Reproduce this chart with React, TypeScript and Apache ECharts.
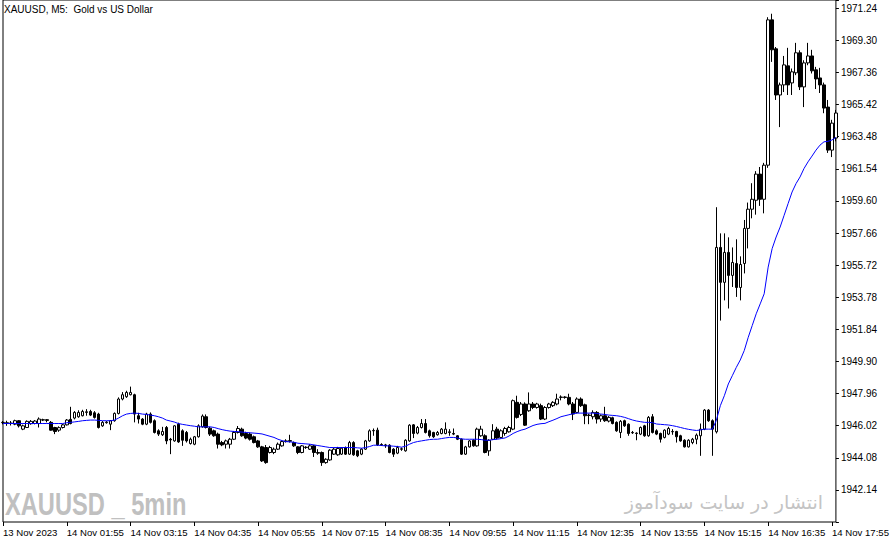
import React, { useEffect, useRef } from 'react';
import * as echarts from 'echarts';

const TITLE = 'XAUUSD, M5:  Gold vs US Dollar';
const WATERMARK_EN = 'XAUUSD _ 5min';
const WATERMARK_FA = 'انتشار در سایت سودآموز';

const TICK_LABELS = [
  '13 Nov 2023', '14 Nov 01:55', '14 Nov 03:15', '14 Nov 04:35', '14 Nov 05:55',
  '14 Nov 07:15', '14 Nov 08:35', '14 Nov 09:55', '14 Nov 11:15', '14 Nov 12:35',
  '14 Nov 13:55', '14 Nov 15:15', '14 Nov 16:35', '14 Nov 17:55',
];

const PRICE_MIN = 1940.2;
const PRICE_MAX = 1971.74;
const PRICE_STEP = 1.94;

// [open, high, low, close]
const OHLC: [number, number, number, number][] = [
  [1946.20, 1946.30, 1946.10, 1946.22], [1946.16, 1946.32, 1946.01, 1946.20], [1946.18, 1946.30, 1946.03, 1946.15], [1946.11, 1946.38, 1946.05, 1946.32], [1946.32, 1946.36, 1945.91, 1946.01],
  [1945.81, 1946.08, 1945.75, 1946.01], [1945.91, 1946.34, 1945.88, 1946.28], [1946.14, 1946.36, 1946.08, 1946.28], [1946.15, 1946.36, 1946.10, 1946.30], [1946.15, 1946.52, 1945.91, 1946.42],
  [1946.36, 1946.44, 1946.30, 1946.38], [1946.38, 1946.42, 1946.22, 1946.34], [1946.22, 1946.30, 1945.72, 1945.75], [1945.91, 1945.95, 1945.51, 1945.67], [1945.75, 1945.98, 1945.65, 1945.90],
  [1945.91, 1946.12, 1945.85, 1946.07], [1946.07, 1946.42, 1946.03, 1946.36], [1946.40, 1947.16, 1946.10, 1946.15], [1946.48, 1946.90, 1946.40, 1946.82], [1946.56, 1946.95, 1946.50, 1946.82],
  [1946.62, 1946.98, 1946.58, 1946.88], [1946.82, 1947.02, 1946.62, 1946.86], [1946.88, 1946.98, 1946.60, 1946.66], [1946.80, 1946.90, 1946.45, 1946.52], [1946.72, 1946.80, 1945.85, 1945.91],
  [1946.01, 1946.30, 1945.95, 1946.22], [1946.20, 1946.30, 1946.14, 1946.24], [1946.11, 1946.36, 1945.75, 1946.32], [1946.32, 1946.82, 1946.26, 1946.76], [1946.76, 1947.73, 1946.70, 1947.63],
  [1947.63, 1948.05, 1947.55, 1947.89], [1947.77, 1948.13, 1947.70, 1948.03], [1947.89, 1948.38, 1947.85, 1948.03], [1947.89, 1947.95, 1946.22, 1946.72], [1946.62, 1946.80, 1946.15, 1946.42],
  [1946.42, 1946.48, 1946.05, 1946.11], [1946.11, 1946.80, 1946.05, 1946.72], [1946.72, 1946.82, 1946.15, 1946.22], [1946.32, 1946.40, 1945.55, 1945.61], [1945.71, 1945.80, 1945.40, 1945.51],
  [1945.47, 1945.95, 1945.40, 1945.67], [1945.91, 1946.00, 1944.90, 1945.10], [1945.20, 1945.28, 1944.30, 1945.16], [1945.10, 1946.05, 1945.05, 1946.01], [1946.11, 1946.20, 1944.98, 1945.04],
  [1945.71, 1945.80, 1944.80, 1945.14], [1945.61, 1945.70, 1945.00, 1945.10], [1944.94, 1945.30, 1944.88, 1945.20], [1944.90, 1945.40, 1944.84, 1945.35], [1945.35, 1946.10, 1945.30, 1946.01],
  [1945.95, 1946.70, 1945.90, 1946.60], [1946.56, 1946.70, 1945.85, 1945.91], [1945.87, 1945.95, 1945.40, 1945.51], [1945.71, 1945.78, 1945.35, 1945.41], [1945.51, 1945.60, 1944.64, 1944.90],
  [1945.00, 1945.10, 1944.78, 1944.86], [1944.90, 1945.18, 1944.64, 1945.10], [1944.90, 1945.28, 1944.64, 1945.20], [1945.20, 1945.70, 1945.15, 1945.61], [1945.61, 1946.00, 1945.55, 1945.85],
  [1945.81, 1945.90, 1945.35, 1945.41], [1945.55, 1945.65, 1945.20, 1945.27], [1945.51, 1945.60, 1945.12, 1945.20], [1945.35, 1945.42, 1944.95, 1945.00], [1945.10, 1945.16, 1944.68, 1944.74],
  [1944.74, 1944.80, 1943.83, 1943.89], [1944.70, 1944.85, 1943.72, 1943.79], [1944.40, 1944.80, 1944.34, 1944.70], [1944.40, 1944.70, 1944.30, 1944.60], [1944.60, 1945.00, 1944.55, 1944.90],
  [1944.80, 1945.12, 1944.75, 1945.06], [1945.06, 1945.20, 1945.00, 1945.10], [1945.08, 1945.47, 1945.00, 1945.12], [1945.00, 1945.06, 1944.74, 1944.80], [1944.74, 1944.78, 1944.30, 1944.40],
  [1944.40, 1944.85, 1944.35, 1944.80], [1944.72, 1944.78, 1944.62, 1944.70], [1944.60, 1944.90, 1944.55, 1944.80], [1944.80, 1944.86, 1944.13, 1944.40], [1944.40, 1944.60, 1944.26, 1944.36],
  [1944.40, 1944.46, 1943.59, 1943.79], [1943.79, 1944.05, 1943.72, 1943.99], [1943.95, 1944.60, 1943.90, 1944.54], [1944.30, 1944.70, 1944.25, 1944.60], [1944.26, 1944.74, 1944.20, 1944.64],
  [1944.30, 1944.72, 1944.25, 1944.66], [1944.70, 1944.76, 1944.25, 1944.30], [1944.30, 1945.10, 1944.25, 1945.00], [1945.00, 1945.08, 1944.20, 1944.26], [1944.50, 1944.56, 1944.12, 1944.20],
  [1944.30, 1944.66, 1944.24, 1944.60], [1944.60, 1945.16, 1944.55, 1945.10], [1945.10, 1945.80, 1945.05, 1945.71], [1945.71, 1945.85, 1945.41, 1945.73], [1945.75, 1945.90, 1944.80, 1944.86],
  [1944.88, 1944.96, 1944.80, 1944.86], [1944.86, 1944.92, 1944.68, 1944.82], [1944.84, 1944.90, 1944.35, 1944.40], [1944.60, 1944.66, 1944.13, 1944.30], [1944.36, 1944.80, 1944.30, 1944.70],
  [1944.62, 1944.70, 1944.50, 1944.60], [1944.50, 1945.20, 1944.45, 1945.14], [1945.10, 1946.11, 1945.05, 1946.05], [1946.07, 1946.12, 1945.27, 1945.55], [1945.57, 1946.00, 1945.50, 1945.91],
  [1945.91, 1946.42, 1945.85, 1946.15], [1946.15, 1946.42, 1945.55, 1945.61], [1945.71, 1945.78, 1945.30, 1945.41], [1945.61, 1945.65, 1945.28, 1945.35], [1945.47, 1945.70, 1945.42, 1945.61],
  [1945.55, 1945.88, 1945.50, 1945.81], [1945.55, 1946.22, 1945.50, 1945.81], [1945.61, 1945.81, 1945.41, 1945.65], [1945.55, 1945.85, 1945.45, 1945.51], [1945.41, 1945.45, 1945.15, 1945.20],
  [1945.20, 1945.25, 1944.25, 1944.30], [1944.30, 1944.80, 1944.25, 1944.74], [1944.74, 1945.15, 1944.70, 1945.10], [1945.14, 1945.20, 1944.75, 1944.80], [1944.80, 1945.90, 1944.75, 1945.81],
  [1945.41, 1946.01, 1945.35, 1945.81], [1945.41, 1945.50, 1944.35, 1944.40], [1944.50, 1945.20, 1944.20, 1945.14], [1945.20, 1946.11, 1945.15, 1945.71], [1945.81, 1945.95, 1945.20, 1945.27],
  [1945.31, 1945.80, 1945.25, 1945.71], [1945.55, 1945.95, 1945.41, 1945.85], [1945.65, 1946.01, 1945.60, 1945.91], [1945.81, 1947.60, 1945.75, 1947.53], [1947.43, 1947.83, 1946.45, 1946.52],
  [1946.70, 1947.45, 1946.60, 1947.33], [1947.33, 1947.43, 1946.00, 1946.05], [1946.92, 1948.03, 1946.86, 1947.33], [1947.33, 1947.45, 1947.02, 1947.12], [1947.12, 1947.40, 1947.05, 1947.33],
  [1947.23, 1947.35, 1946.36, 1946.42], [1946.42, 1947.20, 1946.36, 1947.12], [1947.12, 1947.40, 1947.05, 1947.33], [1947.23, 1947.50, 1947.15, 1947.43], [1947.33, 1947.95, 1947.25, 1947.63],
  [1947.73, 1947.85, 1947.55, 1947.75], [1947.75, 1947.80, 1947.65, 1947.73], [1947.73, 1947.95, 1947.25, 1947.33], [1947.33, 1947.45, 1946.36, 1946.72], [1946.82, 1947.73, 1946.76, 1947.63],
  [1947.63, 1947.73, 1947.15, 1947.23], [1947.28, 1947.35, 1946.11, 1946.62], [1946.66, 1946.75, 1946.11, 1946.64], [1946.56, 1946.95, 1946.40, 1946.82], [1946.82, 1946.90, 1946.15, 1946.42],
  [1946.42, 1946.70, 1946.25, 1946.62], [1946.62, 1947.16, 1946.25, 1946.32], [1946.30, 1946.60, 1946.22, 1946.52], [1946.50, 1946.56, 1946.10, 1946.15], [1946.22, 1946.28, 1945.65, 1945.71],
  [1945.61, 1946.36, 1945.27, 1946.28], [1946.32, 1946.38, 1945.95, 1946.01], [1946.11, 1946.16, 1945.41, 1945.55], [1945.61, 1945.70, 1945.52, 1945.59], [1945.57, 1945.62, 1945.14, 1945.55],
  [1945.51, 1945.97, 1945.45, 1945.91], [1946.01, 1946.07, 1945.35, 1945.41], [1945.41, 1946.60, 1945.35, 1946.52], [1946.56, 1946.72, 1945.55, 1945.61], [1945.71, 1945.80, 1945.45, 1945.51],
  [1945.55, 1945.60, 1945.00, 1945.20], [1945.31, 1945.80, 1945.25, 1945.75], [1945.51, 1945.95, 1945.45, 1945.85], [1945.65, 1945.81, 1945.47, 1945.67], [1945.67, 1945.71, 1945.00, 1945.35],
  [1945.41, 1945.47, 1945.05, 1945.10], [1945.14, 1945.20, 1944.70, 1944.74], [1944.74, 1945.20, 1944.70, 1945.14], [1945.00, 1945.28, 1944.90, 1945.20], [1945.20, 1945.55, 1944.90, 1945.45],
  [1945.41, 1946.15, 1944.20, 1945.81], [1945.81, 1947.02, 1945.75, 1946.96], [1946.96, 1947.02, 1946.25, 1946.32], [1946.32, 1946.40, 1944.20, 1945.81], [1945.65, 1959.22, 1945.55, 1956.79],
  [1956.79, 1957.64, 1952.37, 1954.68], [1954.68, 1957.64, 1953.59, 1956.49], [1956.49, 1957.40, 1953.10, 1955.10], [1955.10, 1956.79, 1954.40, 1955.88], [1955.82, 1957.28, 1953.80, 1954.37],
  [1954.37, 1956.25, 1953.59, 1955.76], [1955.82, 1958.45, 1955.22, 1957.94], [1957.94, 1959.50, 1956.73, 1959.10], [1959.10, 1960.67, 1958.55, 1959.70], [1959.64, 1961.40, 1958.77, 1961.22],
  [1961.22, 1961.65, 1959.30, 1959.70], [1959.70, 1961.90, 1958.85, 1961.76], [1961.76, 1970.70, 1961.60, 1970.54], [1970.54, 1970.91, 1968.00, 1968.73], [1968.79, 1968.90, 1965.70, 1966.00],
  [1966.00, 1966.75, 1964.06, 1966.61], [1966.61, 1968.36, 1966.18, 1967.82], [1967.76, 1968.85, 1966.00, 1966.61], [1966.73, 1967.60, 1966.00, 1967.40], [1967.34, 1969.15, 1967.20, 1968.55],
  [1968.55, 1968.70, 1966.30, 1966.49], [1966.49, 1968.10, 1965.27, 1967.94], [1967.94, 1969.15, 1967.80, 1968.36], [1968.36, 1968.73, 1967.30, 1967.46], [1967.52, 1967.70, 1966.36, 1966.97],
  [1967.03, 1967.64, 1966.12, 1966.61], [1966.61, 1966.75, 1964.90, 1965.21], [1965.27, 1965.70, 1962.50, 1962.67], [1962.67, 1964.50, 1962.25, 1964.30], [1963.40, 1965.10, 1963.20, 1964.91],
];

// moving average (blue line), one value per bar
const MA = [
  1946.15, 1946.15, 1946.15, 1946.15, 1946.15, 1946.15, 1946.15, 1946.15, 1946.15, 1946.15,
  1946.15, 1946.15, 1946.15, 1946.15, 1946.15, 1946.15, 1946.20, 1946.22, 1946.25, 1946.28,
  1946.32, 1946.34, 1946.36, 1946.36, 1946.34, 1946.32, 1946.32, 1946.32, 1946.36, 1946.48,
  1946.62, 1946.72, 1946.76, 1946.78, 1946.76, 1946.72, 1946.70, 1946.66, 1946.62, 1946.56,
  1946.48, 1946.36, 1946.30, 1946.24, 1946.15, 1946.10, 1946.06, 1946.02, 1945.99, 1945.95,
  1945.95, 1945.95, 1945.95, 1945.91, 1945.84, 1945.78, 1945.73, 1945.69, 1945.67, 1945.66,
  1945.63, 1945.61, 1945.59, 1945.57, 1945.55, 1945.52, 1945.45, 1945.38, 1945.31, 1945.20,
  1945.12, 1945.06, 1945.04, 1945.02, 1944.96, 1944.94, 1944.92, 1944.90, 1944.86, 1944.82,
  1944.78, 1944.74, 1944.70, 1944.70, 1944.70, 1944.70, 1944.70, 1944.70, 1944.70, 1944.68,
  1944.66, 1944.70, 1944.76, 1944.84, 1944.84, 1944.82, 1944.80, 1944.80, 1944.78, 1944.76,
  1944.72, 1944.78, 1944.90, 1945.00, 1945.06, 1945.10, 1945.14, 1945.18, 1945.20, 1945.20,
  1945.24, 1945.28, 1945.31, 1945.31, 1945.28, 1945.22, 1945.20, 1945.20, 1945.20, 1945.20,
  1945.18, 1945.14, 1945.14, 1945.18, 1945.20, 1945.24, 1945.28, 1945.40, 1945.55, 1945.66,
  1945.75, 1945.81, 1945.92, 1946.03, 1946.10, 1946.14, 1946.16, 1946.26, 1946.35, 1946.45,
  1946.56, 1946.62, 1946.68, 1946.74, 1946.78, 1946.78, 1946.78, 1946.78, 1946.78, 1946.76,
  1946.72, 1946.70, 1946.66, 1946.64, 1946.62, 1946.58, 1946.52, 1946.44, 1946.36, 1946.30,
  1946.26, 1946.22, 1946.22, 1946.20, 1946.12, 1946.10, 1946.08, 1946.06, 1946.02, 1945.97,
  1945.91, 1945.85, 1945.80, 1945.76, 1945.73, 1945.76, 1945.81, 1945.81, 1945.81, 1946.35,
  1947.23, 1947.83, 1948.54, 1949.04, 1949.54, 1949.99, 1950.56, 1951.36, 1952.07, 1952.78,
  1953.38, 1953.99, 1955.60, 1956.72, 1957.42, 1958.02, 1958.73, 1959.44, 1960.14, 1960.65,
  1961.05, 1961.56, 1961.96, 1962.31, 1962.67, 1962.97, 1963.17, 1963.20, 1963.28, 1963.44,
];

// bar times (5-minute bars starting 14 Nov 00:35)
const START_MINUTES = 35;
const BAR_MINUTES = 5;
const TIMES = OHLC.map((_, i) => {
  const m = START_MINUTES + i * BAR_MINUTES;
  const hh = String(Math.floor(m / 60)).padStart(2, '0');
  const mm = String(m % 60).padStart(2, '0');
  return `14 Nov ${hh}:${mm}`;
});

const FONT = '"Liberation Sans", Arial, sans-serif';

export default function App() {
  const ref = useRef<HTMLDivElement>(null);

  useEffect(() => {
    document.body.style.margin = '0';
    const chart = echarts.init(ref.current as HTMLDivElement, null, { renderer: 'svg' });
    chart.setOption({
      animation: false,
      backgroundColor: '#ffffff',
      textStyle: { fontFamily: FONT },
      grid: {
        left: 2,
        right: 53,
        top: 0,
        bottom: 21,
        show: true,
        borderColor: '#000000',
        borderWidth: 1,
        backgroundColor: '#ffffff',
      },
      xAxis: {
        type: 'category',
        data: TIMES,
        boundaryGap: false,
        axisLine: { show: false },
        axisTick: { show: true, interval: 15, length: 4, lineStyle: { color: '#000', width: 1 } },
        axisLabel: {
          interval: 15,
          align: 'left',
          margin: 5,
          color: '#000',
          fontSize: 9.6,
          fontFamily: FONT,
          formatter: (_v: string, idx: number) => TICK_LABELS[Math.round(idx / 16)] ?? '',
        },
        splitLine: { show: false },
      },
      yAxis: {
        type: 'value',
        position: 'right',
        min: PRICE_MIN,
        max: PRICE_MAX,
        interval: PRICE_STEP,
        scale: true,
        axisLine: { show: false },
        axisTick: { show: true, length: 3, lineStyle: { color: '#000', width: 1 } },
        axisLabel: {
          margin: 5,
          color: '#000',
          fontSize: 10,
          fontFamily: FONT,
          formatter: (v: number) => (v < PRICE_MIN + 0.5 || v > PRICE_MAX - 0.3 ? '' : v.toFixed(2)),
        },
        splitLine: { show: false },
      },
      series: [
        {
          type: 'candlestick',
          data: OHLC.map(([o, h, l, c]) => [o, c, l, h]),
          barWidth: 3,
          clip: true,
          z: 2,
          itemStyle: {
            color: '#ffffff',
            color0: '#000000',
            borderColor: '#000000',
            borderColor0: '#000000',
            borderColorDoji: '#000000',
            borderWidth: 1,
          },
        },
        {
          type: 'line',
          data: MA,
          showSymbol: false,
          symbol: 'none',
          silent: true,
          clip: true,
          z: 3,
          lineStyle: { color: '#0000ff', width: 1 },
        },
      ],
      graphic: [
        {
          type: 'text',
          x: 4,
          y: 9,
          z: 10,
          style: { text: TITLE, fill: '#000', font: `10px ${FONT}`, textVerticalAlign: 'middle' },
        },
        {
          type: 'text',
          x: 5,
          y: 504,
          z: 10,
          scaleX: 0.74,
          style: { text: WATERMARK_EN, fill: '#c0c0c0', font: `bold 32px ${FONT}`, textVerticalAlign: 'middle' },
        },
        {
          type: 'text',
          x: 823,
          y: 502,
          z: 10,
          style: {
            text: WATERMARK_FA,
            fill: '#c4c4c4',
            font: '19px "DejaVu Sans", sans-serif',
            textAlign: 'right',
            textVerticalAlign: 'middle',
          },
        },
      ],
    });
    return () => chart.dispose();
  }, []);

  return (
    <div
      ref={ref}
      style={{ position: 'absolute', left: 0, top: 0, width: 892, height: 543, background: '#fff' }}
    />
  );
}
